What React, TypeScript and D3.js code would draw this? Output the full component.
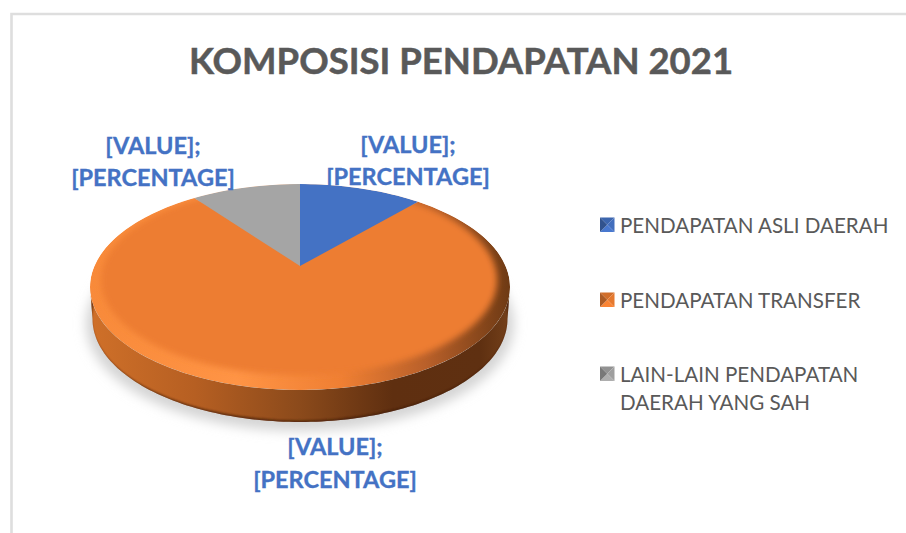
import React from 'react';
import * as d3 from 'd3';

const categories = ['PENDAPATAN ASLI DAERAH', 'PENDAPATAN TRANSFER', 'LAIN-LAIN PENDAPATAN DAERAH YANG SAH'];
const shares = [9.5, 82.1, 8.4];
const colors = ['#4472C4', '#ED7D31', '#A5A5A5'];
const legendLines = [['PENDAPATAN ASLI DAERAH'], ['PENDAPATAN TRANSFER'], ['LAIN-LAIN PENDAPATAN', 'DAERAH YANG SAH']];
const dataLabel = ['[VALUE];', '[PERCENTAGE]'];
const title = 'KOMPOSISI PENDAPATAN 2021';

const W = 906, H = 533;
const cx = 300, cy = 287, rx = 210, ry = 103, depth = 32, apexY = 266;
const FONT = 'Lato, "Open Sans", sans-serif';

const sx = d3.scaleLinear().domain([-1, 1]).range([cx - rx, cx + rx]);
const sy = d3.scaleLinear().domain([-1, 1]).range([cy - ry, cy + ry]);
const pieGen = d3.pie<number>().sort(null);
const arcs = pieGen(shares);
const rim = (a: number): [number, number] => [sx(Math.sin(a)), sy(-Math.cos(a))];
const lineGen = d3.line();

function wedge(a0: number, a1: number) {
  const n = Math.max(2, Math.ceil((a1 - a0) * 40));
  const pts: [number, number][] = [[cx, apexY]];
  d3.range(n + 1).forEach((i) => pts.push(rim(a0 + ((a1 - a0) * i) / n)));
  return lineGen(pts) + 'Z';
}

function wall() {
  const n = 120;
  const ang = d3.range(n + 1).map((i) => Math.PI / 2 + (Math.PI * i) / n);
  const up = ang.map(rim);
  const down = ang.map((a) => {
    const [x, y] = rim(a);
    return [cx + (x - cx) * 0.988, y + depth] as [number, number];
  });
  return lineGen([...up, ...down.reverse()]) + 'Z';
}

const shade = (c: string, k: number) => d3.color(c)!.darker(k).formatHex();

export default function App() {
  const legendY = [225, 300, 374];
  return (
    <svg width={W} height={H} viewBox={`0 0 ${W} ${H}`} style={{ position: 'absolute', left: 0, top: 0, background: '#fff' }}>
      <defs>
        <linearGradient id="wall" gradientUnits="userSpaceOnUse" x1={cx - rx} x2={cx + rx} y1="0" y2="0">
          <stop offset="0" stopColor="#cf7029" />
          <stop offset="0.25" stopColor="#b65f22" />
          <stop offset="0.5" stopColor="#8b4a1b" />
          <stop offset="0.72" stopColor="#5f2f10" />
          <stop offset="0.93" stopColor="#5f3011" />
          <stop offset="1" stopColor="#74401a" />
        </linearGradient>
        <linearGradient id="rim" gradientUnits="userSpaceOnUse" x1={cx - rx} x2={cx + rx} y1="0" y2="0">
          <stop offset="0" stopColor="#f88a3a" />
          <stop offset="0.35" stopColor="#ff9445" />
          <stop offset="0.6" stopColor="#ef7f33" />
          <stop offset="0.8" stopColor="#b9602a" />
          <stop offset="1" stopColor="#6e3a14" />
        </linearGradient>
        <filter id="blur6" x="-20%" y="-30%" width="140%" height="160%"><feGaussianBlur stdDeviation="6" /></filter>
        <filter id="blur3" x="-10%" y="-20%" width="120%" height="140%"><feGaussianBlur stdDeviation="3.2" /></filter>
        <filter id="blur1" x="-10%" y="-20%" width="120%" height="140%"><feGaussianBlur stdDeviation="1.2" /></filter>
        <clipPath id="wallClip"><path d={wall()} /></clipPath>
        <clipPath id="topClip"><ellipse cx={cx} cy={cy} rx={rx} ry={ry} /></clipPath>
      </defs>

      <path d={`M11.5 ${H}V14H${W}`} fill="none" stroke="#dedede" strokeWidth="2.6" />

      <text x={461} y={74} textAnchor="middle" fontFamily={FONT} fontWeight={700} fontSize={36.5} fill="#595959" stroke="#595959" strokeWidth={0.5}>{title}</text>

      <ellipse cx={cx} cy={cy + depth + 5} rx={rx + 4} ry={ry + 4} fill="#d4d4d4" filter="url(#blur6)" />

      <path d={wall()} fill="url(#wall)" />
      <g clipPath="url(#wallClip)">
        <ellipse cx={cx} cy={cy + depth} rx={rx} ry={ry} fill="none" stroke="#3f1f08" strokeWidth="3" filter="url(#blur1)" opacity="0.75" />
      </g>

      <g clipPath="url(#topClip)">
        <path d={wedge(arcs[1].startAngle, arcs[1].endAngle)} fill="url(#rim)" />
        <ellipse cx={cx - 1} cy={cy - 7} rx={rx - 12} ry={ry - 8} fill={colors[1]} filter="url(#blur3)" />
        {arcs.map((a, i) => i === 1 ? null : (
          <path key={i} d={wedge(a.startAngle, a.endAngle)} fill={colors[i]} />
        ))}
      </g>

      {[[408, 152.5], [335, 455], [153, 153.5]].map(([x, y], i) => (
        <text key={i} textAnchor="middle" fontFamily={FONT} fontWeight={700} fontSize={23.5} fill="#4472C4" stroke="#4472C4" strokeWidth={0.35}>
          {dataLabel.map((t, j) => <tspan key={j} x={x} y={y + j * 32.5}>{t}</tspan>)}
        </text>
      ))}

      {categories.map((c, i) => {
        const y0 = legendY[i] - 7.5, x0 = 600, s = 14.5;
        const mx = x0 + s / 2, my = y0 + s / 2;
        const tri = (ax: number, ay: number, bx: number, by: number, col: string, k: number) => (
          <path key={k} d={lineGen([[ax, ay], [bx, by], [mx, my]])! + 'Z'} fill={col} />
        );
        const base = colors[i];
        return (
          <g key={c}>
            {tri(x0, y0, x0 + s, y0, shade(base, 0.35), 0)}
            {tri(x0 + s, y0, x0 + s, y0 + s, shade(base, 0.1), 1)}
            {tri(x0 + s, y0 + s, x0, y0 + s, d3.color(base)!.brighter(0.15).formatHex(), 2)}
            {tri(x0, y0 + s, x0, y0, shade(base, 0.9), 3)}
            <text fontFamily={FONT} fontSize={20.6} fill="#595959">
              {legendLines[i].map((t, j) => <tspan key={j} x={620} y={legendY[i] + 7.5 + j * 28.5}>{t}</tspan>)}
            </text>
          </g>
        );
      })}
    </svg>
  );
}
